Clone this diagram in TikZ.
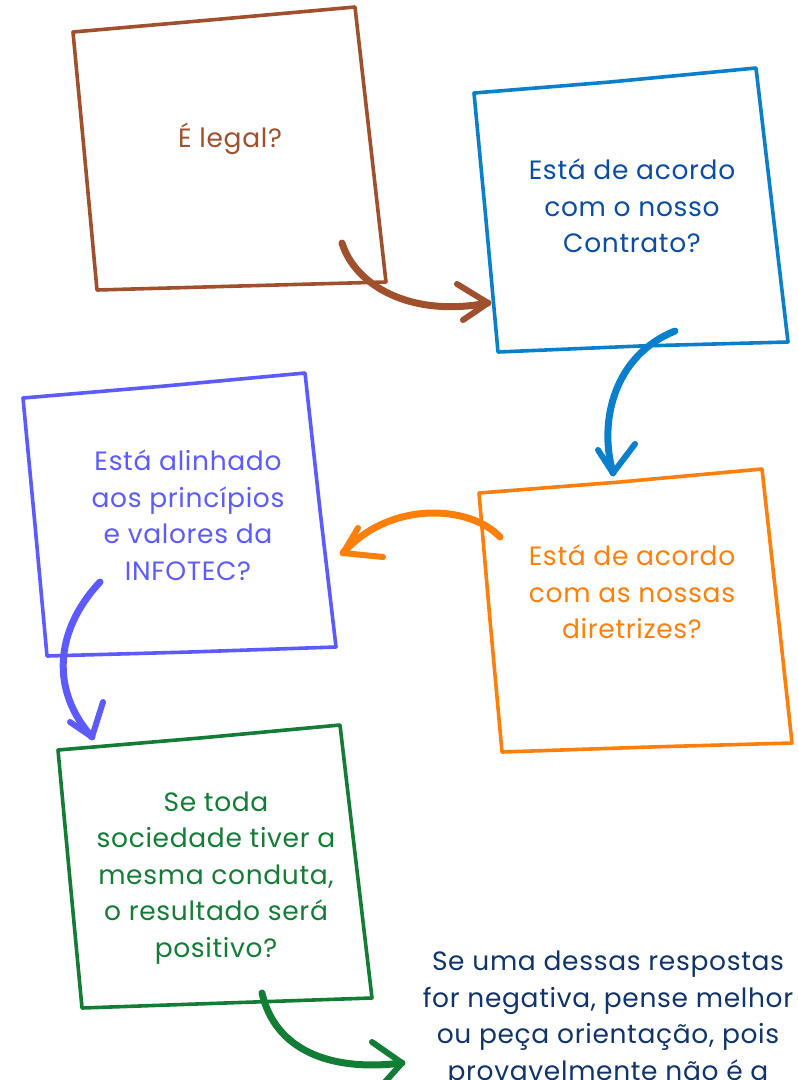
\documentclass[tikz,border=0pt]{standalone}
\usepackage{fontspec}
\setmainfont{Poppins}[LetterSpace=2.5]
\definecolor{cbrown}{HTML}{A0502C}
\definecolor{cblue}{HTML}{0A80CC}
\definecolor{cbluetxt}{HTML}{0B4DA6}
\definecolor{corange}{HTML}{FF7F0A}
\definecolor{cpurple}{HTML}{5B5BFF}
\definecolor{cgreen}{HTML}{137D36}
\definecolor{cnavy}{HTML}{10346C}
\tikzset{
  boxline/.style={line width=3.6pt, line join=round, line cap=round},
  arr/.style={line width=7pt, line cap=round},
  barb/.style={line width=6pt, line cap=round, line join=round},
  qtext/.style={align=center, font=\fontsize{26.5}{36.5}\selectfont, inner sep=0pt},
}
\begin{document}
\begin{tikzpicture}[x=1pt,y=-1pt]
\useasboundingbox (0,0) rectangle (798,1080);
% boxes
\draw[boxline, cbrown] (73,32) -- (210,20) -- (355,7) -- (370,140) -- (386,282) -- (240,286) -- (97,290) -- (85,160) -- cycle;
\node[qtext, text=cbrown] (b1) at (230,139) {É legal?};

\draw[boxline, cblue] (474,93) -- (610,82) -- (756,68) -- (772,205) -- (788,342) -- (640,346) -- (498,352) -- (486,220) -- cycle;
\node[qtext, text=cbluetxt] (b2) at (632,206) {Está de acordo\\com o nosso\\Contrato?};

\draw[boxline, corange] (479,493) -- (620,482) -- (762,469) -- (777,605) -- (792,743) -- (650,747) -- (502,752) -- (490,620) -- cycle;
\node[qtext, text=corange] (b3) at (632,592) {Está de acordo\\com as nossas\\diretrizes?};

\draw[boxline, cpurple] (23,398) -- (165,386) -- (305,373) -- (320,510) -- (336,647) -- (190,652) -- (47,656) -- (35,525) -- cycle;
\node[qtext, text=cpurple] (b4) at (188,515) {Está alinhado\\aos princípios\\e valores da\\INFOTEC?};

\draw[boxline, cgreen] (58,750) -- (200,738) -- (340,725) -- (356,862) -- (372,998) -- (225,1003) -- (82,1008) -- (70,880) -- cycle;
\node[qtext, text=cgreen] (b5) at (216,878) {Se toda\\sociedade tiver a\\mesma conduta,\\o resultado será\\positivo?};

\node[qtext, text=cnavy, anchor=north] (fin) at (608,951) {Se uma dessas respostas\\for negativa, pense melhor\\ou peça orientação, pois\\provavelmente não é a};

% arrow coordinates
\coordinate (a1s) at (342,243); \coordinate (a1t) at (488,303);
\coordinate (a1u) at (457,284); \coordinate (a1l) at (463,320);
\coordinate (a2s) at (675,331); \coordinate (a2t) at (613,473);
\coordinate (a2u) at (598,450); \coordinate (a2l) at (635,444);
\coordinate (a3s) at (500,537); \coordinate (a3t) at (343,553);
\coordinate (a3u) at (358,528); \coordinate (a3l) at (383,557);
\coordinate (a4s) at (100,582); \coordinate (a4t) at (92,737);
\coordinate (a4u) at (70,722); \coordinate (a4l) at (103,702);
\coordinate (a5s) at (262,993); \coordinate (a5t) at (402,1063);
\coordinate (a5u) at (372,1042); \coordinate (a5l) at (385,1082);

\draw[arr, cbrown] (a1s) .. controls (355,285) and (410,318) .. (a1t);
\draw[barb, cbrown] (a1u) -- (a1t) -- (a1l);

\draw[arr, cblue] (a2s) .. controls (615,355) and (598,420) .. (a2t);
\draw[barb, cblue] (a2u) -- (a2t) -- (a2l);

\draw[arr, corange] (a3s) .. controls (470,505) and (390,500) .. (a3t);
\draw[barb, corange] (a3u) -- (a3t) -- (a3l);

\draw[arr, cpurple] (a4s) .. controls (55,630) and (50,690) .. (a4t);
\draw[barb, cpurple] (a4u) -- (a4t) -- (a4l);

\draw[arr, cgreen] (a5s) .. controls (275,1050) and (330,1072) .. (a5t);
\draw[barb, cgreen] (a5u) -- (a5t) -- (a5l);
\end{tikzpicture}
\end{document}
